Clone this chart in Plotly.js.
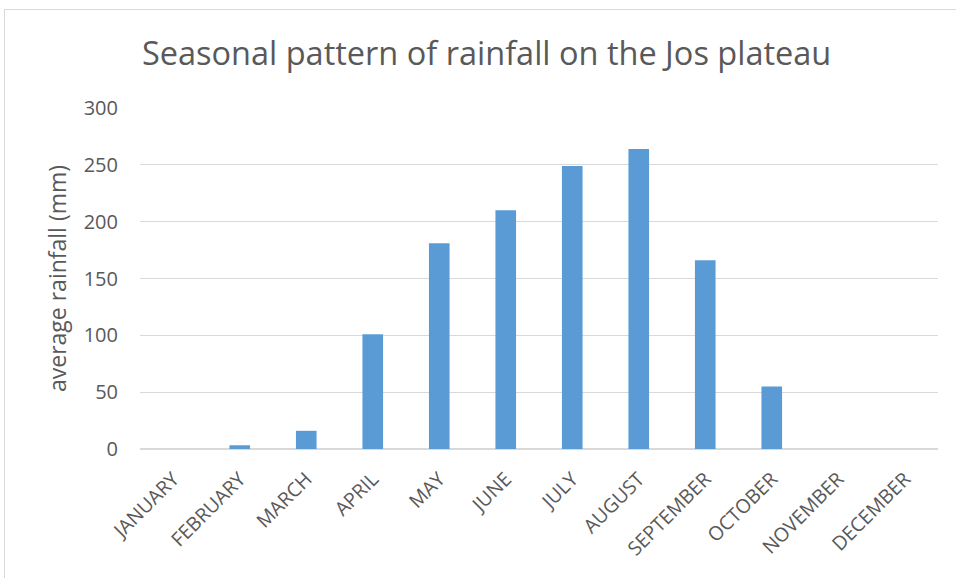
<!DOCTYPE html>
<html>
<head>
<meta charset="utf-8">
<script src="https://cdn.plot.ly/plotly-3.0.1.min.js"></script>
<style>
  html, body { margin: 0; padding: 0; background: #fff; overflow: hidden; }
  #chart { position: absolute; left: 0; top: 0; width: 956px; height: 578px; }
  #frame { position: absolute; left: 4px; top: 9px; width: 1000px; height: 620px; border: 1px solid #d9d9d9; pointer-events: none; }
</style>
</head>
<body>
<div id="chart"></div>
<div id="frame"></div>
<script>
const months = ["JANUARY", "FEBRUARY", "MARCH", "APRIL", "MAY", "JUNE", "JULY", "AUGUST", "SEPTEMBER", "OCTOBER", "NOVEMBER", "DECEMBER"];
const rainfall = [0, 3.3, 16, 101, 181, 210, 249, 264, 166, 55, 0, 0];
const yTicks = [0, 50, 100, 150, 200, 250, 300];

const FONT = "Open Sans, Liberation Sans, sans-serif";
const TXT = "#595959";

const data = [{
  type: "bar",
  x: months,
  y: rainfall,
  marker: { color: "#5B9BD5" },
  hoverinfo: "x+y"
}];

const layout = {
  width: 956,
  height: 578,
  margin: { l: 140, r: 18, t: 108, b: 129 },
  paper_bgcolor: "#ffffff",
  plot_bgcolor: "#ffffff",
  bargap: 0.69,
  showlegend: false,
  title: {
    text: "Seasonal pattern of rainfall on the Jos plateau",
    font: { family: FONT, size: 32.5, color: TXT },
    xref: "container", x: 0.509, xanchor: "center",
    yref: "container", y: 0.908, yanchor: "middle"
  },
  xaxis: {
    type: "category",
    tickangle: -45,
    tickfont: { family: FONT, size: 19.5, color: TXT },
    showgrid: false,
    showline: false,
    ticks: "outside", ticklen: 10, tickcolor: "rgba(0,0,0,0)",
    zeroline: false
  },
  yaxis: {
    range: [0, 300],
    tickvals: yTicks,
    ticktext: yTicks.map(String),
    tickfont: { family: FONT, size: 20, color: TXT },
    showgrid: true,
    gridcolor: "#d9d9d9",
    gridwidth: 1.3,
    zeroline: true,
    zerolinecolor: "#d9d9d9",
    zerolinewidth: 1.5,
    showline: false,
    ticks: "outside", ticklen: 17, tickcolor: "rgba(0,0,0,0)",
    title: {
      text: "average rainfall (mm)",
      font: { family: FONT, size: 23, color: TXT },
      standoff: 10
    }
  }
};

Plotly.newPlot("chart", data, layout, { displayModeBar: false, staticPlot: true });
</script>
</body>
</html>
